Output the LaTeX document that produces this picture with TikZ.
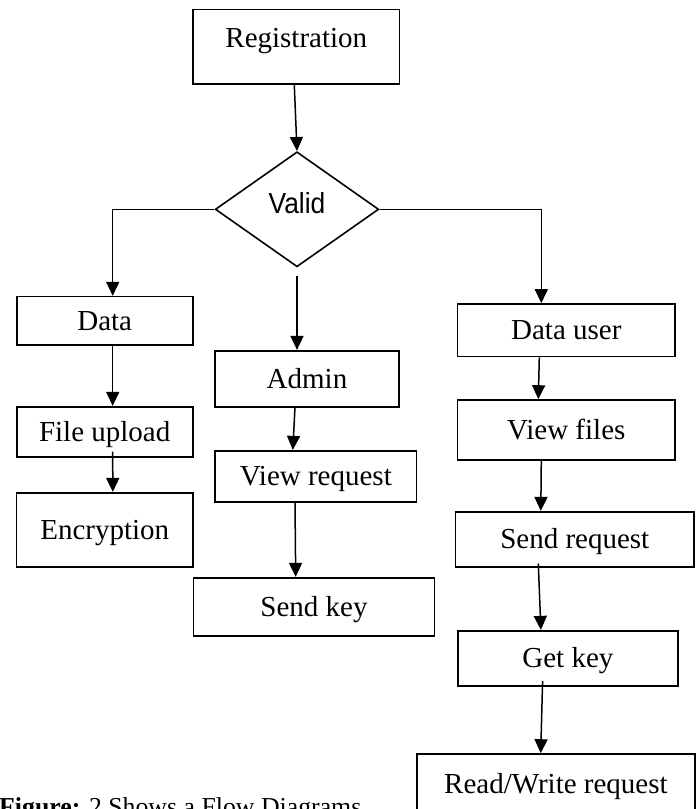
\documentclass[tikz,border=0pt]{standalone}
\usepackage{fontspec}
\setmainfont{Liberation Serif}
\newfontfamily\valfont{Liberation Sans}
\usetikzlibrary{shapes.geometric,arrows.meta}
\tikzset{
  box/.style={draw, line width=1.6pt, inner sep=0pt, text height=19pt, text depth=0pt,
    font=\fontsize{29}{33}\selectfont},
  arr/.style={line width=1.5pt, -{Triangle[length=14pt,width=13pt]}},
}
\begin{document}
\begin{tikzpicture}[x=1pt,y=-1pt]
\path[use as bounding box, clip] (0,0) rectangle (699,809);
\fill[white] (0,0) rectangle (699,809);

\node[box, minimum width=206.5pt, minimum height=74.7pt, text depth=18pt] (reg) at (296.3,46.7) {Registration};
\node[draw, line width=1.6pt, shape=diamond, inner sep=0pt, minimum width=163.5pt, minimum height=115pt,
  text height=20.8pt, text depth=12pt, font=\valfont\fontsize{29}{33}\selectfont] (dia) at (297,209.3) {\scalebox{0.91}[1]{Valid}};

\node[box, minimum width=176pt, minimum height=48.3pt] (data) at (104.7,320.8) {Data};
\node[box, minimum width=176pt, minimum height=50pt] (fu) at (104.7,431.7) {File upload};
\node[box, minimum width=176.3pt, minimum height=74pt] (enc) at (104.8,529.7) {Encryption};

\node[box, minimum width=184pt, minimum height=56pt] (adm) at (307,378.7) {Admin};
\node[box, minimum width=201.7pt, minimum height=51pt] (vr) at (315.8,476.2) {View request};
\node[box, minimum width=241pt, minimum height=58pt] (sk) at (314,606.7) {Send key};

\node[box, minimum width=217.3pt, minimum height=52.7pt] (du) at (566.3,330.3) {Data user};
\node[box, minimum width=217.3pt, minimum height=60pt] (vf) at (566.3,430) {View files};
\node[box, minimum width=238.3pt, minimum height=55pt] (sr) at (574.8,539.2) {Send request};
\node[box, minimum width=220pt, minimum height=55pt] (gk) at (567.9,658.2) {Get key};
\node[box, minimum width=278.3pt, minimum height=60pt] (rw) at (555.9,784) {Read/Write request};

\node[anchor=base west, inner sep=0pt, font=\fontsize{25.8}{30}\selectfont] (cap) at (-1,815) {\textbf{Figure:} 2 Shows a Flow Diagrams};

% connectors
\draw[arr] ([xshift=-2pt]reg.south) -- (dia.north);
\draw[arr] (dia.west) -| ([xshift=8pt]data.north);
\draw[arr] (dia.east) -| ([xshift=-25pt]du.north);
\coordinate (mid) at ([yshift=-8pt]dia.south);
\draw[arr] (mid) -- (mid |- adm.north);

\draw[arr] ([xshift=8pt]data.south) -- ([xshift=8pt]fu.north);
\draw[arr] ([xshift=8pt,yshift=6pt]fu.south) -- ([xshift=8pt]enc.north);

\draw[arr] ([xshift=-12pt]adm.south) -- ([xshift=-23pt]vr.north);
\draw[arr] ([xshift=-20.8pt]vr.south) -- ([xshift=-18.3pt]sk.north);

\draw[arr] ([xshift=-27pt]du.south) -- ([xshift=-28pt]vf.north);
\draw[arr] ([xshift=-25pt]vf.south) -- ([xshift=-34pt]sr.north);
\draw[arr] ([xshift=-36.5pt,yshift=4pt]sr.south) -- ([xshift=-27pt]gk.north);
\draw[arr] ([xshift=-25.3pt,yshift=5.7pt]gk.south) -- ([xshift=-15.2pt]rw.north);
\end{tikzpicture}
\end{document}
